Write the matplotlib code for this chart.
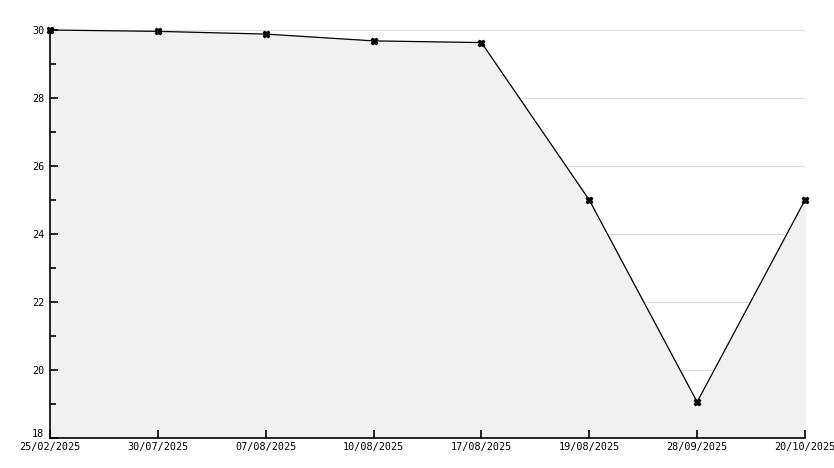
import numpy as np
from matplotlib import pyplot as plt
from matplotlib.ticker import MultipleLocator
from matplotlib.transforms import ScaledTranslation

# data
dates = ['25/02/2025', '30/07/2025', '07/08/2025', '10/08/2025',
         '17/08/2025', '19/08/2025', '28/09/2025', '20/10/2025']
values = [30.0, 29.96, 29.88, 29.68, 29.63, 25.0, 19.06, 25.0]
grid_levels = [20, 22, 24, 26, 28, 30]

plt.rcParams['font.family'] = 'DejaVu Sans Mono'

fig = plt.figure(figsize=(8.34, 4.68), dpi=100)
ax = fig.add_axes([50/834, 30/468, 755/834, 408/468])

x = np.arange(len(dates))
# grid sits under the filled area
for g in grid_levels:
    ax.axhline(g, color='#dcdcdc', linewidth=0.8, zorder=0.5)
ax.fill_between(x, values, 18, color='#f1f1f1', zorder=1)
ax.plot(x, values, color='black', linewidth=0.9, marker='X', markersize=4.5,
        zorder=3, clip_on=False)

ax.set_xlim(0, len(dates) - 1)
ax.set_ylim(18, 30)
ax.set_xticks(x)
ax.set_xticklabels(dates)
ax.yaxis.set_major_locator(MultipleLocator(2))
ax.yaxis.set_minor_locator(MultipleLocator(1))
ax.set_axisbelow(False)

for s in ['top', 'right']:
    ax.spines[s].set_visible(False)
for s in ['left', 'bottom']:
    ax.spines[s].set_linewidth(1.2)

ax.tick_params(axis='both', which='major', direction='in', length=6, width=1.2,
               color='black', labelsize=7.3, pad=4)
ax.tick_params(axis='y', which='minor', direction='in', length=4, width=1.2,
               color='black')
ax.tick_params(axis='x', pad=3)

# lift the bottom y label a bit, as in the original
for lbl in ax.get_yticklabels():
    if lbl.get_text() == '18':
        lbl.set_transform(lbl.get_transform() + ScaledTranslation(0, 5/100, fig.dpi_scale_trans))

fig.savefig('out.png', dpi=100)
